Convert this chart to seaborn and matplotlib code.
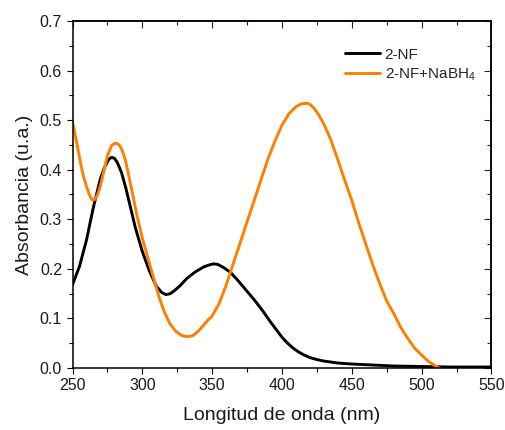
import pandas as pd
import matplotlib
matplotlib.use("Agg")
import matplotlib.pyplot as plt
import seaborn as sns
from matplotlib.ticker import MultipleLocator

# 2-NF (black)
nf_wl = [250, 255, 260, 265, 270, 273, 276, 278, 280, 282, 285, 288, 291, 295,
         300, 305, 310, 314, 317, 320, 323, 327, 332, 338, 344, 348, 351, 354,
         358, 363, 368, 374, 380, 386, 392, 396, 400, 404, 408, 412, 416, 420,
         425, 430, 440, 450, 465, 480, 500, 520, 550]
nf_abs = [0.168, 0.205, 0.258, 0.325, 0.382, 0.405, 0.421, 0.425, 0.423, 0.415,
          0.395, 0.365, 0.330, 0.283, 0.235, 0.196, 0.165, 0.152, 0.148, 0.150,
          0.156, 0.166, 0.181, 0.194, 0.204, 0.208, 0.210, 0.209, 0.203, 0.193,
          0.178, 0.158, 0.138, 0.116, 0.092, 0.077, 0.062, 0.050, 0.040, 0.032,
          0.026, 0.021, 0.017, 0.014, 0.010, 0.008, 0.006, 0.004, 0.003, 0.002,
          0.002]

# 2-NF + NaBH4 (orange)
nb_wl = [250, 253, 256, 258, 260, 262, 264, 266, 268, 270, 272, 275, 278, 280,
         282, 284, 286, 288, 292, 296, 300, 304, 308, 312, 316, 320, 324, 328,
         332, 336, 340, 344, 348, 349, 351, 355, 360, 365, 370, 375, 380, 385,
         390, 395, 400, 405, 410, 414, 418, 420, 423, 426, 430, 435, 440, 445,
         450, 455, 460, 465, 470, 475, 480, 485, 490, 495, 500, 505, 510, 515]
nb_abs = [0.497, 0.455, 0.410, 0.385, 0.366, 0.350, 0.339, 0.340, 0.350, 0.368,
          0.392, 0.428, 0.449, 0.453, 0.453, 0.448, 0.436, 0.418, 0.365, 0.310,
          0.262, 0.222, 0.182, 0.143, 0.111, 0.088, 0.074, 0.066, 0.063, 0.065,
          0.074, 0.087, 0.100, 0.101, 0.110, 0.130, 0.167, 0.210, 0.252, 0.295,
          0.337, 0.380, 0.422, 0.458, 0.490, 0.513, 0.527, 0.533, 0.534, 0.532,
          0.524, 0.512, 0.492, 0.460, 0.420, 0.378, 0.338, 0.292, 0.250, 0.208,
          0.170, 0.135, 0.110, 0.082, 0.060, 0.040, 0.026, 0.013, 0.004, -0.004]

labels = ["2-NF", "2-NF+NaBH$_4$"]
colors = ["#000000", "#FF8000"]

sns.set_theme(style="ticks")
plt.rcParams["font.family"] = ["Liberation Sans", "DejaVu Sans"]
plt.rcParams["mathtext.fontset"] = "custom"
plt.rcParams["mathtext.rm"] = "Liberation Sans"
plt.rcParams["mathtext.it"] = "Liberation Sans:italic"

df = pd.concat([
    pd.DataFrame({"wl": nf_wl, "A": nf_abs, "sample": labels[0]}),
    pd.DataFrame({"wl": nb_wl, "A": nb_abs, "sample": labels[1]}),
])

fig = plt.figure(figsize=(5.06, 4.30), dpi=100)
ax = fig.add_axes([0.1433, 0.1442, 0.828, 0.807])
sns.lineplot(data=df, x="wl", y="A", hue="sample", palette=colors,
             estimator=None, sort=False, linewidth=2.1, ax=ax)

ax.set_xlim(250, 550)
ax.set_ylim(0, 0.7)
ax.xaxis.set_major_locator(MultipleLocator(50))
ax.xaxis.set_minor_locator(MultipleLocator(25))
ax.yaxis.set_major_locator(MultipleLocator(0.1))
ax.yaxis.set_minor_locator(MultipleLocator(0.05))
ax.yaxis.set_major_formatter(matplotlib.ticker.FormatStrFormatter("%.1f"))
ax.tick_params(which="major", direction="out", length=4.5, width=0.8,
               labelsize=11.5, pad=3, color="black", labelcolor="#1a1a1a")
ax.tick_params(which="minor", direction="out", length=2.6, width=0.8, color="black")
for s in ax.spines.values():
    s.set_linewidth(1.1)
    s.set_color("black")

# top / right inward ticks
top = ax.secondary_xaxis("top")
top.xaxis.set_major_locator(MultipleLocator(50))
top.xaxis.set_minor_locator(MultipleLocator(25))
top.tick_params(which="major", direction="in", length=5, width=0.8, labeltop=False)
top.tick_params(which="minor", direction="in", length=2.6, width=0.8)
right = ax.secondary_yaxis("right")
right.yaxis.set_major_locator(MultipleLocator(0.1))
right.yaxis.set_minor_locator(MultipleLocator(0.05))
right.tick_params(which="major", direction="in", length=5, width=0.8, labelright=False)
right.tick_params(which="minor", direction="in", length=2.6, width=0.8)

ax.set_xlabel("Longitud de onda (nm)", fontsize=14, color="#1a1a1a", labelpad=10)
ax.set_ylabel("Absorbancia (u.a.)", fontsize=14, color="#1a1a1a", labelpad=5)

ax.legend(loc="upper left", bbox_to_anchor=(0.650, 0.923), frameon=False,
          fontsize=11, handlelength=2.3, handletextpad=0.3, borderpad=0,
          borderaxespad=0, labelspacing=0.3)

fig.savefig("out.png", dpi=100)
